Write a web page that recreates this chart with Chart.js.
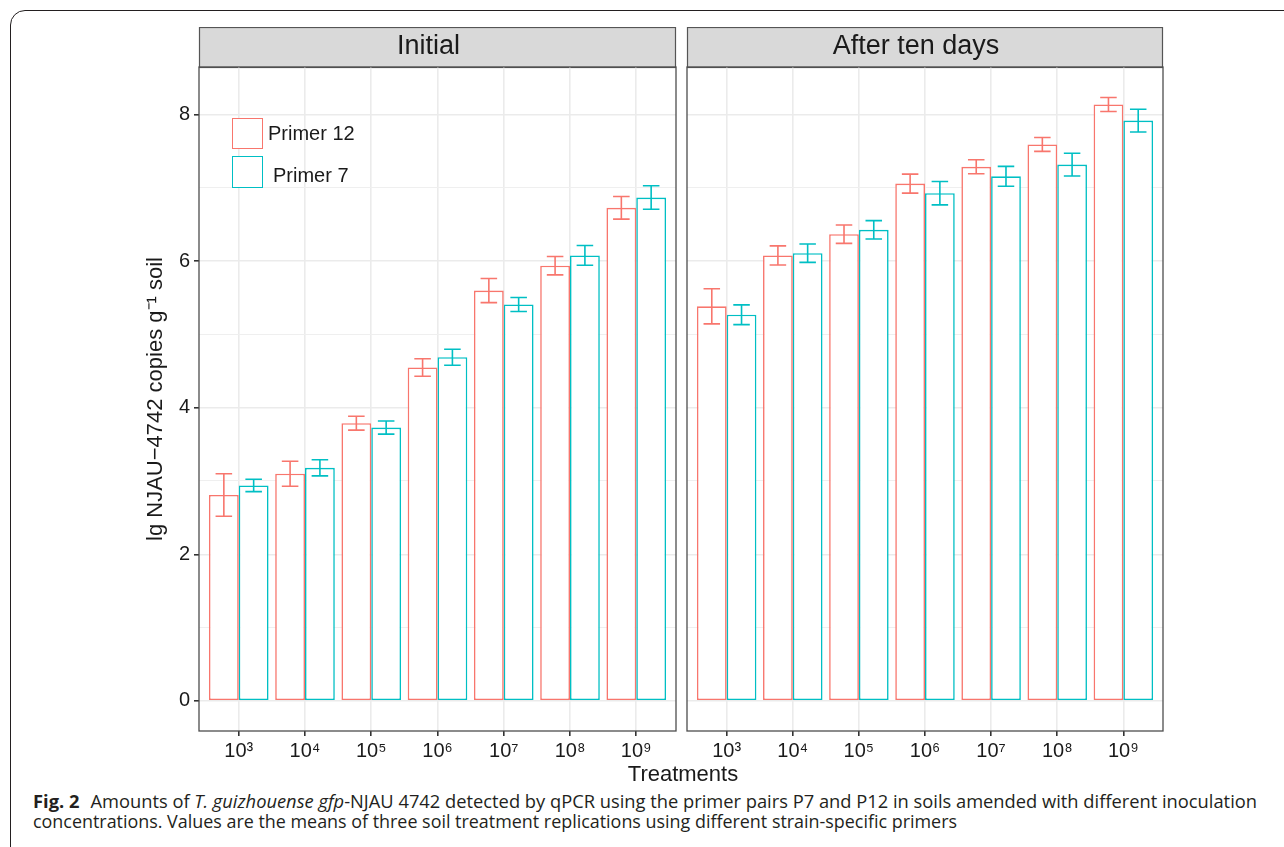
<!DOCTYPE html>
<html>
<head>
<meta charset="utf-8">
<script src="https://cdn.jsdelivr.net/npm/chart.js@4.4.1/dist/chart.umd.min.js"></script>
<style>
  body { margin: 0; background: #fff; width: 1284px; height: 847px; overflow: hidden; position: relative;
         font-family: 'Liberation Sans', Arial, sans-serif; }
  .frame { position: absolute; left: 10px; top: 10px; width: 1320px; height: 900px; box-sizing: border-box;
           border: 1.3px solid #231f20; border-radius: 15px; }
  canvas { position: absolute; }
  #c1 { left: 120px; top: 27px; }
  #c2 { left: 677px; top: 27px; }
  .key { position: absolute; box-sizing: border-box; width: 31px; border: 1.6px solid; background: #fff; }
  .keytxt { position: absolute; font-size: 20px; line-height: 24px; color: #1a1a1a; white-space: nowrap; }
  .xtitle { position: absolute; left: 583px; width: 200px; top: 761px; text-align: center;
            font-size: 22px; line-height: 26px; color: #1a1a1a; }
  .cap { position: absolute; left: 33px; white-space: nowrap; font-family: 'Open Sans', 'Noto Sans', sans-serif;
         font-size: 17.5px; line-height: 20px; color: #231f20; transform-origin: 0 0; }
  .cap b { font-weight: 700; margin-right: 6px; }
</style>
</head>
<body>
<div class="frame"></div>
<canvas id="c1" width="566" height="744"></canvas>
<canvas id="c2" width="496" height="744"></canvas>

<div class="key" style="left:232px;top:118px;height:31px;border-color:#F8766D"></div>
<div class="keytxt" style="left:268px;top:121px">Primer 12</div>
<div class="key" style="left:232px;top:156px;height:32px;border-color:#00BFC4"></div>
<div class="keytxt" style="left:273px;top:163px">Primer 7</div>

<div class="xtitle">Treatments</div>

<div class="cap" id="cap1" style="top:791px"><b>Fig. 2</b> Amounts of <i>T. guizhouense gfp</i>-NJAU 4742 detected by qPCR using the primer pairs P7 and P12 in soils amended with different inoculation</div>
<div class="cap" id="cap2" style="top:811px">concentrations. Values are the means of three soil treatment replications using different strain-specific primers</div>

<script>
// 처리 농도(x축)와 두 시점 × 두 프라이머의 평균·오차
const TREATMENTS = ["10³", "10⁴", "10⁵", "10⁶", "10⁷", "10⁸", "10⁹"];
const SERIES = ["Primer 12", "Primer 7"];
const FACETS = ["Initial", "After ten days"];

const INITIAL_P12     = [2.81, 3.10, 3.79, 4.55, 5.60, 5.94, 6.73];
const INITIAL_P12_ERR = [0.29, 0.17, 0.095, 0.12, 0.165, 0.125, 0.155];
const INITIAL_P7      = [2.94, 3.18, 3.73, 4.69, 5.41, 6.08, 6.87];
const INITIAL_P7_ERR  = [0.085, 0.11, 0.09, 0.11, 0.095, 0.135, 0.16];

const TENDAYS_P12     = [5.385, 6.08, 6.37, 7.06, 7.29, 7.595, 8.14];
const TENDAYS_P12_ERR = [0.24, 0.13, 0.125, 0.13, 0.095, 0.095, 0.095];
const TENDAYS_P7      = [5.27, 6.11, 6.43, 6.93, 7.16, 7.32, 7.92];
const TENDAYS_P7_ERR  = [0.135, 0.125, 0.125, 0.16, 0.135, 0.155, 0.155];

const Y_TICKS = [0, 1, 2, 3, 4, 5, 6, 7, 8];
const Y_LABELED = [0, 2, 4, 6, 8];
const Y_MIN = -0.412, Y_MAX = 8.652;
const X_MIN = 0.4, X_MAX = 7.6;
const ERR_CAP = 0.25;
const Y_TITLE = "lg NJAU−4742 copies g⁻¹ soil";

const COLORS = ["#F8766D", "#00BFC4"];
const TEXT = "#1a1a1a";
Chart.defaults.font.family = "'Liberation Sans', Arial, sans-serif";

const isMajor = (v) => Y_LABELED.indexOf(v) !== -1;

// 패싯 스트립, 오차막대, 패널 테두리
const panelDecor = {
  id: "panelDecor",
  beforeDraw(chart, args, opts) {
    const { ctx, chartArea: a } = chart;
    ctx.save();
    ctx.fillStyle = "#D9D9D9";
    ctx.fillRect(a.left, a.top - 40, a.right - a.left, 40);
    ctx.strokeStyle = "#555";
    ctx.lineWidth = 1.2;
    ctx.strokeRect(a.left + 0.5, a.top - 39.5, a.right - a.left - 1, 40);
    ctx.fillStyle = TEXT;
    ctx.font = "27px 'Liberation Sans', Arial, sans-serif";
    ctx.textAlign = "center";
    ctx.textBaseline = "middle";
    ctx.fillText(opts.label, (a.left + a.right) / 2 - 9, a.top - 20);
    ctx.restore();
  },
  afterDatasetsDraw(chart, args, opts) {
    const { ctx } = chart;
    const xs = chart.scales.x, ys = chart.scales.y;
    const half = xs.getPixelForValue(1 + ERR_CAP / 2) - xs.getPixelForValue(1);
    chart.data.datasets.forEach((ds, i) => {
      const meta = chart.getDatasetMeta(i);
      const errs = opts.errors[i];
      ctx.save();
      ctx.strokeStyle = ds.borderColor;
      ctx.lineWidth = 1.6;
      meta.data.forEach((bar, j) => {
        const v = ds.data[j].y;
        const hi = ys.getPixelForValue(v + errs[j]);
        const lo = ys.getPixelForValue(v - errs[j]);
        ctx.beginPath();
        ctx.moveTo(bar.x, hi); ctx.lineTo(bar.x, lo);
        ctx.moveTo(bar.x - half, hi); ctx.lineTo(bar.x + half, hi);
        ctx.moveTo(bar.x - half, lo); ctx.lineTo(bar.x + half, lo);
        ctx.stroke();
      });
      ctx.restore();
    });
  },
  afterDraw(chart) {
    const { ctx, chartArea: a } = chart;
    ctx.save();
    ctx.strokeStyle = "#4d4d4d";
    ctx.lineWidth = 1.3;
    ctx.strokeRect(a.left, a.top, a.right - a.left, a.bottom - a.top);
    ctx.restore();
  },
};

function makeDatasets(p12, p7) {
  return [p12, p7].map((vals, k) => ({
    label: SERIES[k],
    data: vals.map((v, i) => ({ x: i + 1, y: v })),
    backgroundColor: "#ffffff",
    borderColor: COLORS[k],
    borderWidth: 1.6,
    borderSkipped: false,
    categoryPercentage: 0.9,
    barPercentage: 1.0,
  }));
}

function makeChart(id, facet, p12, p7, errs, showY) {
  return new Chart(document.getElementById(id), {
    type: "bar",
    data: { datasets: makeDatasets(p12, p7) },
    plugins: [panelDecor],
    options: {
      responsive: false, animation: false,
      layout: { padding: { top: 40, right: 10, left: 0, bottom: 0 } },
      plugins: {
        legend: { display: false }, tooltip: { enabled: false },
        panelDecor: { label: facet, errors: errs },
      },
      scales: {
        x: {
          type: "linear", min: X_MIN, max: X_MAX, offset: false,
          afterBuildTicks: (s) => { s.ticks = TREATMENTS.map((_, i) => ({ value: i + 1 })); },
          afterFit: (s) => { s.height = 40; },
          grid: { offset: false, color: "#EBEBEB", lineWidth: 1.6, tickColor: "#333", tickLength: 5 },
          border: { display: false },
          ticks: {
            autoSkip: false, maxRotation: 0, padding: 3, color: TEXT, font: { size: 20 },
            callback: (v) => TREATMENTS[v - 1],
          },
        },
        y: {
          min: Y_MIN, max: Y_MAX,
          afterBuildTicks: (s) => { s.ticks = Y_TICKS.map((v) => ({ value: v })); },
          afterFit: (s) => { s.width = showY ? 79 : 10; },
          grid: {
            color: (c) => (isMajor(c.tick.value) ? "#EBEBEB" : "#EFEFEF"),
            lineWidth: (c) => (isMajor(c.tick.value) ? 1.6 : 1.1),
            tickColor: (c) => (isMajor(c.tick.value) ? "#333" : "rgba(0,0,0,0)"),
            tickLength: 5,
            drawTicks: showY,
          },
          border: { display: false },
          ticks: {
            display: showY, padding: 4, color: TEXT, font: { size: 20 },
            callback: (v) => (isMajor(v) ? String(v) : ""),
          },
          title: {
            display: showY, text: Y_TITLE, color: TEXT, font: { size: 22 },
            padding: { top: 23, bottom: 0 },
          },
        },
      },
    },
  });
}

makeChart("c1", FACETS[0], INITIAL_P12, INITIAL_P7, [INITIAL_P12_ERR, INITIAL_P7_ERR], true);
makeChart("c2", FACETS[1], TENDAYS_P12, TENDAYS_P7, [TENDAYS_P12_ERR, TENDAYS_P7_ERR], false);

// 캡션 줄 폭을 원본에 맞춤
function fitCaption(id, target) {
  const el = document.getElementById(id);
  const w = el.getBoundingClientRect().width;
  if (w > 0) el.style.transform = "scaleX(" + (target / w) + ")";
}
fitCaption("cap1", 1224);
fitCaption("cap2", 924);
</script>
</body>
</html>
